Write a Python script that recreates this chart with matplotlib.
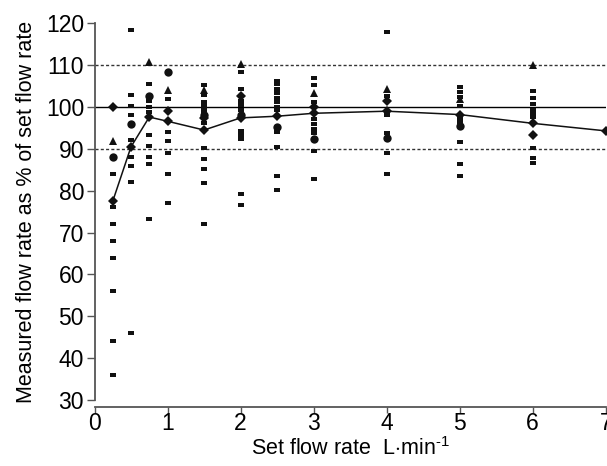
import matplotlib
matplotlib.use("Agg")
import matplotlib.pyplot as plt
from matplotlib.path import Path
import numpy as np

plt.rcParams['font.family'] = ['Liberation Sans', 'DejaVu Sans']
plt.rcParams['mathtext.fontset'] = 'custom'
plt.rcParams['mathtext.rm'] = 'Liberation Sans'

# Set flow rates (L/min)
set_rates = [0.25, 0.5, 0.75, 1, 1.5, 2, 2.5, 3, 4, 5, 6, 7]
# Mean line (diamonds connected)
mean_vals = [77.5, 90.5, 97.6, 96.6, 94.5, 97.4, 97.8, 98.5, 99.0, 98.2, 96.1, 94.3]

# Individual devices: squares (dash markers)
sq_x = ([0.25] * 8 + [0.5] * 9 + [0.75] * 9 + [1] * 6 + [1.5] * 12 + [2] * 10 +
        [2.5] * 12 + [3] * 9 + [4] * 6 + [5] * 9 + [6] * 9)
sq_y = ([84, 76, 72, 68, 64, 56, 44, 36] +
        [118.3, 102.9, 100.3, 98.0, 92.1, 88.0, 85.9, 82.0, 46.0] +
        [105.5, 101.4, 100.1, 98.9, 93.3, 90.7, 88.1, 86.5, 73.2] +
        [102.0, 94.1, 91.9, 88.9, 84.0, 77.0] +
        [105.3, 102.9, 101.3, 100.2, 99.2, 96.1, 90.3, 87.5, 85.3, 81.9, 72.0, 98.6] +
        [108.3, 104.2, 101.5, 100.5, 99.4, 94.3, 93.3, 92.3, 79.1, 76.5] +
        [106.3, 105.4, 104.4, 103.3, 102.2, 101.1, 100.1, 99.2, 94.1, 90.5, 83.6, 80.1] +
        [107.0, 105.3, 101.3, 97.2, 96.0, 94.8, 93.7, 89.5, 82.9] +
        [117.9, 102.6, 98.1, 93.7, 88.9, 84.1] +
        [104.8, 103.7, 102.5, 100.3, 97.3, 96.4, 91.7, 86.5, 83.6] +
        [103.8, 102.1, 100.7, 99.4, 98.5, 97.5, 90.3, 87.7, 86.7])

# Circles
ci_x = [0.25, 0.5, 0.75, 1, 1.5, 2, 2.5, 3, 4, 5]
ci_y = [88.0, 95.9, 102.6, 108.3, 98.0, 98.1, 95.3, 92.4, 92.7, 95.5]

# Triangles
tr_x = [0.25, 0.75, 1, 1.5, 2, 3, 4, 5, 6]
tr_y = [91.9, 110.8, 104.1, 104.1, 110.2, 103.4, 104.3, 101.8, 110.0]

# Diamonds (individual)
di_x = [0.25, 1, 1.5, 2, 3, 4, 6]
di_y = [100.0, 99.1, 97.3, 102.6, 100.0, 101.4, 93.4]

fig = plt.figure(figsize=(6.07, 4.66), dpi=100)
ax = fig.add_axes([94.5 / 607, 1 - 400 / 466, (605.7 - 94.5) / 607, (400 - 23.3) / 466])
ax.set_xlim(0, 7)
ax.set_ylim(30, 120)

ax.axhline(100, color='black', lw=1.0, zorder=1)
ax.axhline(110, color='#333333', lw=1.0, ls=(0, (2.2, 1.6)), zorder=1)
ax.axhline(90, color='#333333', lw=1.0, ls=(0, (2.2, 1.6)), zorder=1)

dash = Path([(-1, -0.55), (1, -0.55), (1, 0.55), (-1, 0.55), (-1, -0.55)],
            [Path.MOVETO, Path.LINETO, Path.LINETO, Path.LINETO, Path.CLOSEPOLY])
ax.plot(sq_x, sq_y, ls='none', marker=dash, ms=4.5, color='#111111', mew=0, zorder=2)
ax.plot(ci_x, ci_y, ls='none', marker='o', ms=6, color='#111111', mew=0, zorder=3)
ax.plot(tr_x, tr_y, ls='none', marker='^', ms=6, color='#111111', mew=0, zorder=3)
ax.plot(di_x, di_y, ls='none', marker='D', ms=5, color='#111111', mew=0, zorder=3)
ax.plot(set_rates, mean_vals, color='#111111', lw=1.1, marker='D', ms=5, mew=0,
        zorder=4)

for s in ['top', 'right']:
    ax.spines[s].set_visible(False)
ax.spines['bottom'].set_position(('outward', 5))
for s in ['left', 'bottom']:
    ax.spines[s].set_color('#555555')
    ax.spines[s].set_linewidth(1.3)

ax.set_xticks(range(0, 8))
ax.set_yticks(range(30, 121, 10))
ax.tick_params(axis='y', direction='out', length=5.5, width=1, color='#555555',
               labelsize=16.5, pad=2)
ax.tick_params(axis='x', direction='out', length=4, width=1, color='#555555',
               labelsize=16.5, pad=0)
ax.set_xlabel(r'Set flow rate  L$\cdot$min$^{\text{-1}}$', fontsize=15.5, labelpad=1)
ax.set_ylabel('Measured flow rate as % of set flow rate', fontsize=15.5, labelpad=6)

fig.savefig('out.png', dpi=100)
